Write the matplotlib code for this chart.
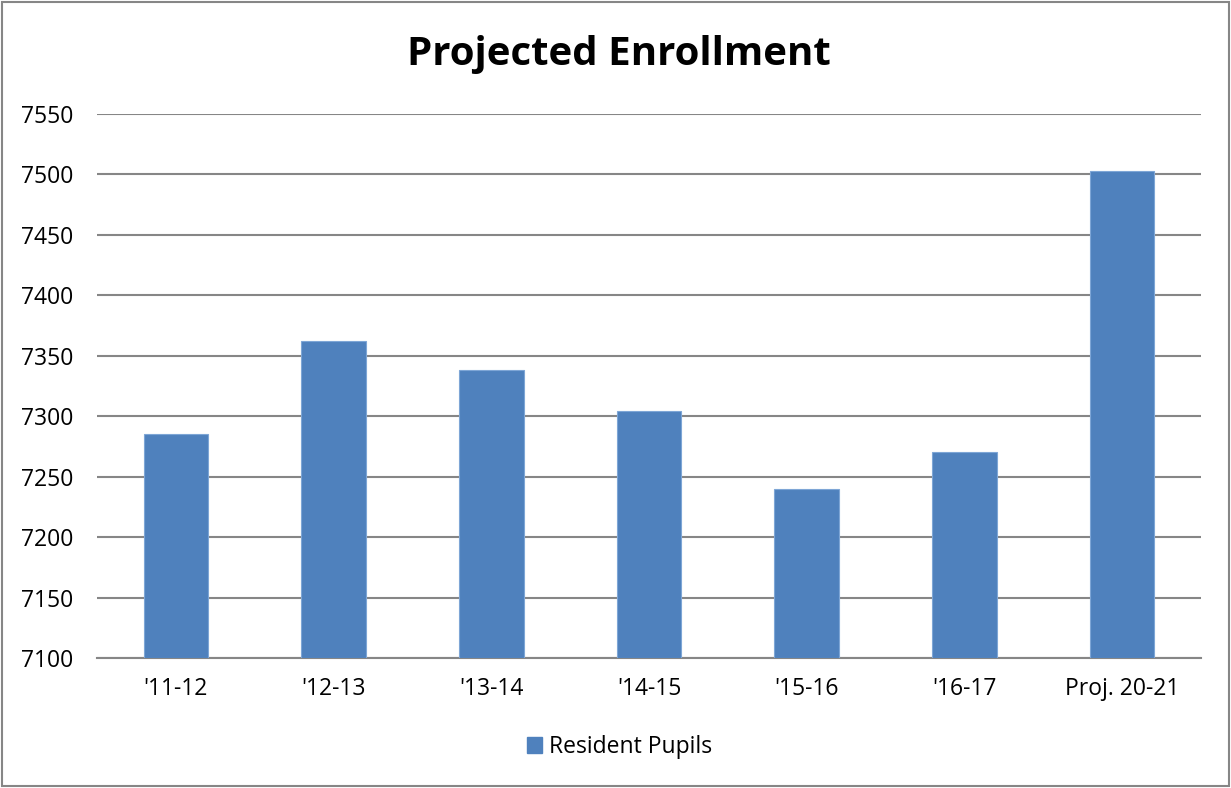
import matplotlib
matplotlib.use("Agg")
import matplotlib.pyplot as plt
from matplotlib.patches import Rectangle

categories = ["'11-12", "'12-13", "'13-14", "'14-15", "'15-16", "'16-17", "Proj. 20-21"]
resident_pupils = [7285, 7362, 7338, 7304, 7240, 7270, 7503]
yticks = [7100, 7150, 7200, 7250, 7300, 7350, 7400, 7450, 7500, 7550]

plt.rcParams['font.family'] = ['Open Sans', 'DejaVu Sans']

fig = plt.figure(figsize=(12.31, 7.88), dpi=100)
ax = fig.add_axes([97/1231, 1-658/788, (1201-97)/1231, (658-114)/788])

x = list(range(len(categories)))
ax.bar(x, [v - 7100 for v in resident_pupils], bottom=7100, width=0.41,
       color="#4F81BD", edgecolor="#7EA6D6", linewidth=0.8, zorder=3, label="Resident Pupils")
ax.set_xlim(-0.5, len(categories) - 0.5)
ax.set_ylim(7100, 7550)
ax.set_yticks(yticks)
ax.set_yticklabels([str(t) for t in yticks], fontsize=16.5)
ax.set_xticks(x)
ax.set_xticklabels(categories, fontsize=16.5)
ax.tick_params(axis='both', length=0, colors='black')
ax.tick_params(axis='y', pad=17)
ax.tick_params(axis='x', pad=14)
ax.grid(axis='y', color="#868686", linewidth=1.5, zorder=0)
for s in ["top", "right", "left"]:
    ax.spines[s].set_visible(False)
ax.spines["bottom"].set_color("#868686")
ax.spines["bottom"].set_linewidth(1.5)

fig.text(0.503, 1-54/788, "Projected Enrollment", ha="center", va="center",
         fontsize=29, fontweight="bold")

leg = fig.legend(handles=[Rectangle((0, 0), 1, 1, color="#4F81BD")], labels=["Resident Pupils"],
                 loc="center", bbox_to_anchor=(0.503, 1-747/788), frameon=False,
                 fontsize=16.5, handlelength=0.65, handleheight=0.65, handletextpad=0.3)

border = Rectangle((0.002, 0.002), 0.996, 0.996, transform=fig.transFigure,
                   fill=False, edgecolor="#868686", linewidth=1.5)
fig.patches.append(border)

fig.savefig("out.png", dpi=100)
